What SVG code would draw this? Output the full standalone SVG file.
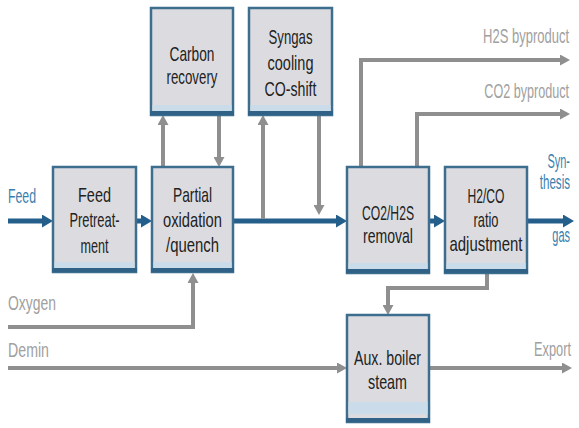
<svg xmlns="http://www.w3.org/2000/svg" width="579" height="428" viewBox="0 0 579 428">
  <style>
    .box { fill: #dcdce0; stroke: #3e6e8e; stroke-width: 2.5; }
    .band { fill: #cadcea; }
    .bot { fill: #2f6286; }
    .t { font-family: "Liberation Sans", Arial, sans-serif; font-size: 21px; fill: #222222; text-anchor: middle; }
    .lg { font-family: "Liberation Sans", Arial, sans-serif; font-size: 20px; fill: #a0a0a0; }
    .lb { font-family: "Liberation Sans", Arial, sans-serif; font-size: 20px; fill: #3a7fb0; }
    .end { text-anchor: end; }
    .blue { fill: none; stroke: #245f8c; stroke-width: 5; }
    .gray { fill: none; stroke: #8f8f8f; stroke-width: 4; }
  </style>
  <defs>
    <marker id="ag" viewBox="0 0 10 11" refX="1" refY="5.5" markerWidth="10" markerHeight="11" markerUnits="userSpaceOnUse" orient="auto">
      <path d="M0,0 L10,5.5 L0,11 z" fill="#8f8f8f"/>
    </marker>
    <marker id="ab" viewBox="0 0 11 13" refX="1" refY="6.5" markerWidth="11" markerHeight="13" markerUnits="userSpaceOnUse" orient="auto">
      <path d="M0,0 L11,6.5 L0,13 z" fill="#245f8c"/>
    </marker>
  </defs>
  <rect width="579" height="428" fill="#ffffff"/>

  <g id="connectors">
    <path class="blue" d="M8,221 H43" marker-end="url(#ab)"/>
    <path class="blue" d="M136,221 H142" marker-end="url(#ab)"/>
    <path class="blue" d="M233,221 H337" marker-end="url(#ab)"/>
    <path class="blue" d="M429,221 H435" marker-end="url(#ab)"/>
    <path class="blue" d="M527,221 H564" marker-end="url(#ab)"/>
    <path class="gray" d="M163,166 V124" marker-end="url(#ag)"/>
    <path class="gray" d="M219,116 V158" marker-end="url(#ag)"/>
    <path class="gray" d="M263,219 V124" marker-end="url(#ag)"/>
    <path class="gray" d="M319,116 V206" marker-end="url(#ag)"/>
    <path class="gray" d="M361,166 V60 H561" marker-end="url(#ag)"/>
    <path class="gray" d="M417,166 V114 H561" marker-end="url(#ag)"/>
    <path class="gray" d="M487,274 V288 H388 V306" marker-end="url(#ag)"/>
    <path class="gray" d="M8,327 H193 V282" marker-end="url(#ag)"/>
    <path class="gray" d="M8,368 H338" marker-end="url(#ag)"/>
    <path class="gray" d="M429,368 H563" marker-end="url(#ag)"/>
  </g>

  <g id="carbon-recovery">
    <rect class="box" x="151" y="8" width="82" height="107"/>
    <rect class="band" x="152.5" y="105" width="79" height="6"/>
    <rect class="bot" x="150" y="111" width="84" height="4"/>
    <text class="t" x="192" y="61" textLength="45" lengthAdjust="spacingAndGlyphs">Carbon</text>
    <text class="t" x="192" y="84" textLength="51" lengthAdjust="spacingAndGlyphs">recovery</text>
  </g>
  <g id="syngas-cooling">
    <rect class="box" x="249" y="8" width="83" height="107"/>
    <rect class="band" x="250.5" y="105" width="80" height="6"/>
    <rect class="bot" x="248" y="111" width="85" height="4"/>
    <text class="t" x="290.5" y="44" textLength="44" lengthAdjust="spacingAndGlyphs">Syngas</text>
    <text class="t" x="290.5" y="70" textLength="46" lengthAdjust="spacingAndGlyphs">cooling</text>
    <text class="t" x="290.5" y="96" textLength="52" lengthAdjust="spacingAndGlyphs">CO-shift</text>
  </g>
  <g id="feed-pretreatment">
    <rect class="box" x="53" y="167" width="83" height="105"/>
    <rect class="band" x="54.5" y="262" width="80" height="6"/>
    <rect class="bot" x="52" y="268" width="85" height="4"/>
    <text class="t" x="94.5" y="202" textLength="33" lengthAdjust="spacingAndGlyphs">Feed</text>
    <text class="t" x="94.5" y="227" textLength="50" lengthAdjust="spacingAndGlyphs">Pretreat-</text>
    <text class="t" x="94.5" y="253" textLength="28" lengthAdjust="spacingAndGlyphs">ment</text>
  </g>
  <g id="partial-oxidation">
    <rect class="box" x="152" y="167" width="81" height="105"/>
    <rect class="band" x="153.5" y="262" width="78" height="6"/>
    <rect class="bot" x="151" y="268" width="83" height="4"/>
    <text class="t" x="192.5" y="202" textLength="39" lengthAdjust="spacingAndGlyphs">Partial</text>
    <text class="t" x="192.5" y="227" textLength="59" lengthAdjust="spacingAndGlyphs">oxidation</text>
    <text class="t" x="192.5" y="252" textLength="53" lengthAdjust="spacingAndGlyphs">/quench</text>
  </g>
  <g id="co2-h2s-removal">
    <rect class="box" x="347" y="167" width="82" height="106"/>
    <rect class="band" x="348.5" y="263" width="79" height="6"/>
    <rect class="bot" x="346" y="269" width="84" height="4"/>
    <text class="t" x="388" y="220" textLength="52" lengthAdjust="spacingAndGlyphs">CO2/H2S</text>
    <text class="t" x="388" y="243" textLength="50" lengthAdjust="spacingAndGlyphs">removal</text>
  </g>
  <g id="h2-co-ratio">
    <rect class="box" x="445" y="167" width="82" height="106"/>
    <rect class="band" x="446.5" y="263" width="79" height="6"/>
    <rect class="bot" x="444" y="269" width="84" height="4"/>
    <text class="t" x="486" y="203" textLength="37" lengthAdjust="spacingAndGlyphs">H2/CO</text>
    <text class="t" x="486" y="227" textLength="25" lengthAdjust="spacingAndGlyphs">ratio</text>
    <text class="t" x="486" y="251" textLength="73" lengthAdjust="spacingAndGlyphs">adjustment</text>
  </g>
  <g id="aux-boiler">
    <rect class="box" x="347" y="315" width="82" height="107"/>
    <rect class="band" x="348.5" y="402" width="79" height="12"/>
    <rect class="bot" x="346" y="418" width="84" height="4"/>
    <text class="t" x="387.5" y="365" textLength="67" lengthAdjust="spacingAndGlyphs">Aux. boiler</text>
    <text class="t" x="387.5" y="389" textLength="39" lengthAdjust="spacingAndGlyphs">steam</text>
  </g>

  <g id="labels">
    <text class="lb" x="8" y="203" textLength="28" lengthAdjust="spacingAndGlyphs">Feed</text>
    <text class="lg" x="8" y="310" textLength="48" lengthAdjust="spacingAndGlyphs">Oxygen</text>
    <text class="lg" x="8" y="357" textLength="41" lengthAdjust="spacingAndGlyphs">Demin</text>
    <text class="lg end" transform="translate(569,43) scale(0.65,1)">H2S byproduct</text>
    <text class="lg end" transform="translate(569,98) scale(0.63,1)">CO2 byproduct</text>
    <text class="lg end" transform="translate(571,356) scale(0.64,1)">Export</text>
    <text class="lb end" transform="translate(570,168) scale(0.55,1)">Syn-</text>
    <text class="lb end" transform="translate(570,189) scale(0.58,1)">thesis</text>
    <text class="lb end" transform="translate(570,242) scale(0.55,1)">gas</text>
  </g>
</svg>
